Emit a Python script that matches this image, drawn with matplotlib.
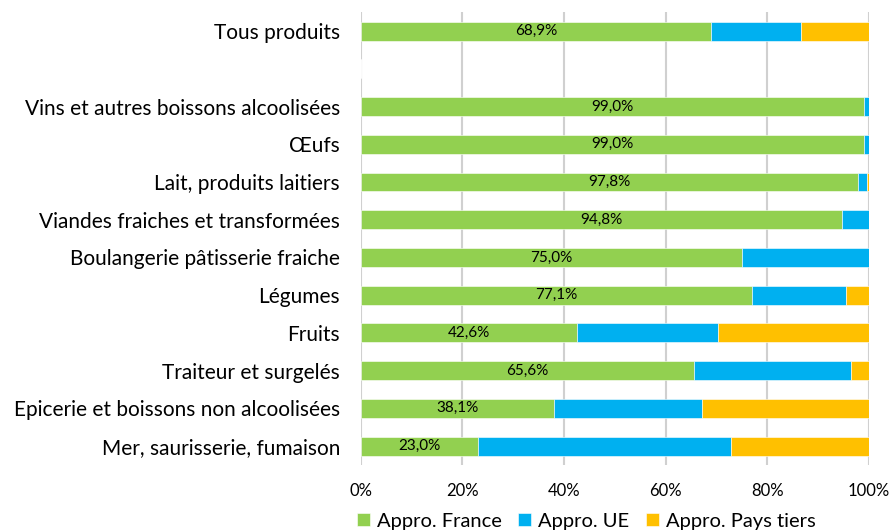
import matplotlib
matplotlib.use("Agg")
import matplotlib.pyplot as plt
import numpy as np

categories = ["Mer, saurisserie, fumaison", "Epicerie et boissons non alcoolisées",
              "Traiteur et surgelés", "Fruits", "Légumes", "Boulangerie pâtisserie fraiche",
              "Viandes fraiches et transformées", "Lait, produits laitiers", "Œufs",
              "Vins et autres boissons alcoolisées", "", "Tous produits"]
france = [23.0, 38.1, 65.6, 42.6, 77.1, 75.0, 94.8, 97.8, 99.0, 99.0, np.nan, 68.9]
ue     = [49.8, 29.0, 30.9, 27.7, 18.5, 25.0, 5.2, 1.8, 1.0, 1.0, np.nan, 17.8]
tiers  = [27.2, 32.9, 3.5, 29.7, 4.4, 0.0, 0.0, 0.4, 0.0, 0.0, np.nan, 13.3]
series_names = ["Appro. France", "Appro. UE", "Appro. Pays tiers"]
colors = ["#92D050", "#00B0F0", "#FFC000"]
xticks = [0, 20, 40, 60, 80, 100]

plt.rcParams['font.family'] = ['Lato', 'DejaVu Sans']

fig = plt.figure(figsize=(8.91, 5.32), dpi=100)
ax = fig.add_axes([0.405, 0.126, 0.57, 0.851])

y = np.arange(len(categories))
f = np.nan_to_num(np.array(france))
u = np.nan_to_num(np.array(ue))
t = np.nan_to_num(np.array(tiers))
h = 0.5
ax.barh(y, f, height=h, color=colors[0], label=series_names[0], edgecolor="white", linewidth=0.4, zorder=2)
ax.barh(y, u, left=f, height=h, color=colors[1], label=series_names[1], edgecolor="white", linewidth=0.4, zorder=2)
ax.barh(y, t, left=f + u, height=h, color=colors[2], label=series_names[2], edgecolor="white", linewidth=0.4, zorder=2)

for yi, v in zip(y, france):
    if not np.isnan(v):
        ax.text(v / 2, yi, f"{v:.1f}%".replace(".", ","), ha="center", va="center",
                fontsize=11, color="black", zorder=3)

ax.set_xlim(0, 100)
ax.set_ylim(-0.5, len(categories) - 0.5)
ax.set_yticks(y)
ax.set_yticklabels(categories, fontsize=15)
ax.set_xticks(xticks)
ax.set_xticklabels([f"{v}%" for v in xticks], fontsize=12)
ax.tick_params(axis="both", length=0)
ax.tick_params(axis="y", pad=15)
ax.tick_params(axis="x", pad=13)
for s in ax.spines.values():
    s.set_visible(False)
ax.xaxis.grid(True, color="#D0D0D0", linewidth=1.5, zorder=0)
ax.set_axisbelow(True)

fig.legend(loc="lower center", bbox_to_anchor=(0.658, -0.03), ncol=3, frameon=False,
           fontsize=14.5, handlelength=0.65, handleheight=0.65, handletextpad=0.35, columnspacing=0.8)

fig.savefig("out.png", dpi=100)
